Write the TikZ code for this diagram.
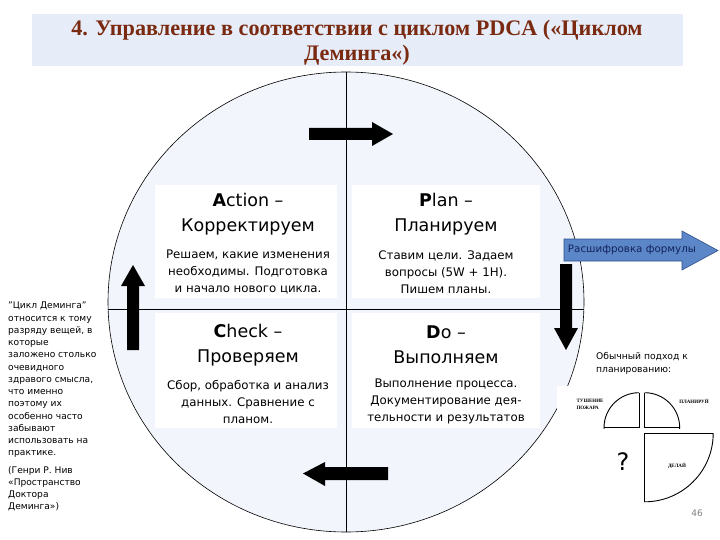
\documentclass[tikz,border=0pt]{standalone}
\usepackage{fontspec}
\setmainfont{DejaVu Sans}
\newfontfamily\titlefont{Liberation Serif}
\usetikzlibrary{shapes.geometric}
\definecolor{band}{HTML}{E6ECF8}
\definecolor{titlecol}{HTML}{7A2A10}
\definecolor{circfill}{HTML}{F2F5FC}
\definecolor{arrowblue}{HTML}{5B86C8}
\definecolor{arrowedge}{HTML}{2F4F8A}
\definecolor{navytext}{HTML}{14235A}
\begin{document}
\begin{tikzpicture}[x=1pt,y=-1pt,
  qbox/.style={draw=none, fill=white, inner sep=0pt},
  qhead/.style={font=\fontsize{17.5}{25}\selectfont, align=center, inner sep=0pt},
  qbody/.style={font=\fontsize{11.8}{17}\selectfont, align=center, inner sep=0pt},
  blockarrow/.style={fill=black, draw=none},
  fig/.style={line width=0.9pt},
  tiny/.style={font=\titlefont\bfseries\fontsize{5}{6.5}\selectfont, align=left, inner sep=0pt}
]
\useasboundingbox (0,0) rectangle (720,540);
\fill[white] (0,0) rectangle (720,540);
% title band
\fill[band] (32,14) rectangle (683,66);
\node[font=\titlefont\bfseries\fontsize{22.2}{25}\selectfont, text=titlecol, align=center, inner sep=0pt] (title) at (357,42.5)
  {4. Управление в соответствии с циклом PDCA («Циклом\\Деминга«)};
% big circle
\node[ellipse, draw, fill=circfill, line width=0.6pt, minimum width=476pt, minimum height=460pt, inner sep=0pt] (cyc) at (346,302) {};
\coordinate (hl) at (108.1,309);
\coordinate (hr) at (583.9,309);
\draw[line width=0.7pt] (cyc.north) -- (cyc.south);
\draw[line width=0.7pt] (hl) -- (hr);
% quadrant boxes
\node[qbox, minimum width=182pt, minimum height=113pt] (actbox) at (246,241.5) {};
\node[qbox, minimum width=188pt, minimum height=113pt] (planbox) at (446,241.5) {};
\node[qbox, minimum width=182pt, minimum height=115pt] (chkbox) at (246,370.5) {};
\node[qbox, minimum width=188pt, minimum height=115pt] (dobox) at (446,370.5) {};
\node[qhead] (acth) at (248,214) {\textbf{A}ction –\\Корректируем};
\node[qbody] (actb) at (248,272.5) {Решаем, какие изменения\\необходимы. Подготовка\\и начало нового цикла.};
\node[qhead] (planh) at (446,214) {\textbf{P}lan –\\Планируем};
\node[qbody] (planb) at (446,272.5) {Ставим цели. Задаем\\вопросы (5W + 1H).\\Пишем планы.};
\node[qhead] (chkh) at (248,345) {\textbf{C}heck –\\Проверяем};
\node[qbody] (chkb) at (248,401.5) {Сбор, обработка и анализ\\данных. Сравнение с\\планом.};
\node[qhead] (doh) at (446,345) {\textbf{D}o –\\Выполняем};
\node[qbody] (dob) at (446,401.5) {Выполнение процесса.\\Документирование дея-\\тельности и результатов};
% black cycle arrows
\fill[blockarrow] (309,128) -- (372,128) -- (372,122) -- (393,134) -- (372,146) -- (372,140) -- (309,140) -- cycle;
\fill[blockarrow] (388,467) -- (325,467) -- (325,462) -- (303,473.5) -- (325,486) -- (325,480) -- (388,480) -- cycle;
\fill[blockarrow] (127,350) -- (127,286) -- (121,286) -- (133,265) -- (145,286) -- (139,286) -- (139,350) -- cycle;
\fill[blockarrow] (560,264) -- (560,328) -- (554,328) -- (566,350) -- (578,328) -- (572,328) -- (572,264) -- cycle;
% blue arrow
\filldraw[fill=arrowblue, draw=arrowedge, line width=0.6pt] (564,239) -- (682,239) -- (682,231) -- (718,250.5) -- (682,270) -- (682,261) -- (564,261) -- cycle;
\node[font=\fontsize{10.3}{12}\selectfont, text=navytext, inner sep=0pt] (formula) at (632,250) {Расшифровка формулы};
% left quotation
\node[font=\fontsize{9.1}{12.25}\selectfont, align=left, anchor=north west, inner sep=0pt] (quote) at (8,302)
  {"Цикл Деминга"\\относится к тому\\разряду вещей, в\\которые\\заложено столько\\очевидного\\здравого смысла,\\что именно\\поэтому их\\особенно часто\\забывают\\использовать на\\практике.};
\node[font=\fontsize{9.1}{12.1}\selectfont, align=left, anchor=north west, inner sep=0pt] (source) at (8,466)
  {(Генри Р. Нив\\«Пространство\\Доктора\\Деминга»)};
% right side: usual approach
\fill[white] (557,386) rectangle (720,505);
\node[font=\fontsize{9.2}{13.5}\selectfont, align=left, anchor=north west, inner sep=0pt] (usual) at (596,352)
  {Обычный подход к\\планированию:};
\begin{scope}
  \clip (603,391) rectangle (639,428);
  \draw[fig] (639,427.7) circle[radius=35];
\end{scope}
\draw[fig] (604,427.7) -- (639,427.7) -- (639,392.7);
\begin{scope}
  \clip (644.7,391) rectangle (681,428);
  \draw[fig] (644.7,427.7) circle[radius=35];
\end{scope}
\draw[fig] (644.7,392.7) -- (644.7,427.7) -- (679.7,427.7);
\begin{scope}
  \clip (644.7,433.3) rectangle (715,503);
  \draw[fig] (644.7,433.3) circle[radius=68.5];
\end{scope}
\draw[fig] (713.2,433.3) -- (644.7,433.3) -- (644.7,501.8);
\node[tiny] (fire) at (590,404.5) {ТУШЕНИЕ\\ПОЖАРА};
\node[tiny] (planit) at (694,401) {ПЛАНИРУЙ};
\node[tiny] (doit) at (677,466) {ДЕЛАЙ};
\node[font=\fontsize{24}{26}\selectfont, inner sep=0pt] (qmark) at (623,462) {?};
\node[font=\fontsize{9}{10}\selectfont, text=gray, inner sep=0pt] (pagenum) at (697,513) {46};
\end{tikzpicture}
\end{document}
